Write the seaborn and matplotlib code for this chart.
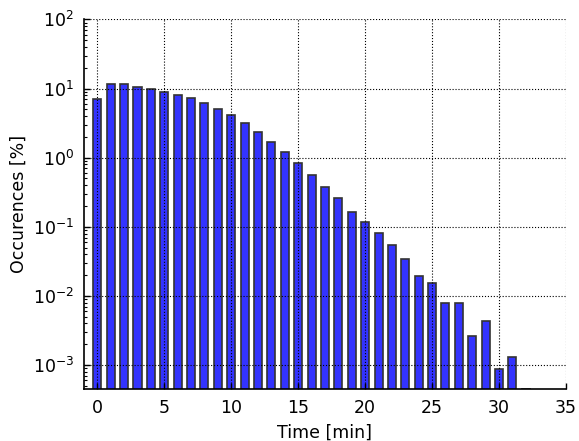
import numpy as np
import pandas as pd
import matplotlib
matplotlib.use("Agg")
import matplotlib.pyplot as plt
import seaborn as sns
from matplotlib.ticker import LogLocator

minutes = list(range(0, 33))
occurrences = [7.1, 11.6, 11.6, 10.7, 9.7, 8.9, 8.1, 7.3, 6.2, 5.08,
               4.12, 3.13, 2.32, 1.71, 1.21, 0.84, 0.57, 0.377, 0.262, 0.166,
               0.118, 0.0817, 0.0547, 0.034, 0.0195, 0.0156, 0.00783, 0.00783,
               0.00261, 0.00434, 0.000869, 0.00131, 0.00045]
x_ticks = [0, 5, 10, 15, 20, 25, 30, 35]

df = pd.DataFrame({"Time": minutes, "Occ": occurrences})

plt.rcParams["font.family"] = ["DejaVu Sans"]
plt.rcParams["font.size"] = 12
plt.rcParams["xtick.direction"] = "in"
plt.rcParams["ytick.direction"] = "in"
plt.rcParams["axes.unicode_minus"] = False

fig = plt.figure(figsize=(5.79, 4.41), dpi=100)
ax = fig.add_axes([0.145, 0.117, 0.8325, 0.839])

sns.barplot(data=df, x="Time", y="Occ", native_scale=True, width=0.6,
            color="#3333ff", saturation=1, edgecolor="#333333", linewidth=1.2,
            errorbar=None, ax=ax, zorder=2)
ax.set_yscale("log")

ax.set_xlim(-1, 35)
ax.set_ylim(4.45e-4, 100)
ax.set_xticks(x_ticks)
ax.set_xticklabels([str(t) for t in x_ticks])
ax.yaxis.set_major_locator(LogLocator(base=10, numticks=10))
ax.yaxis.set_minor_locator(LogLocator(base=10, subs=np.arange(2, 10), numticks=20))

ax.grid(True, which="major", color="k", linestyle=":", linewidth=0.8, zorder=0)
ax.set_axisbelow(False)
for s in ["top", "right"]:
    ax.spines[s].set_visible(False)
for s in ["left", "bottom"]:
    ax.spines[s].set_linewidth(1.2)
    ax.spines[s].set_color("k")

ax.tick_params(axis="both", which="major", length=4, width=1, labelsize=12.5, pad=7)
ax.tick_params(axis="y", which="minor", length=2, width=0.8)
ax.tick_params(axis="x", which="minor", length=0)
ax.tick_params(top=False, right=False)

ax.set_xlabel("Time [min]", fontsize=12.5, labelpad=5)
ax.set_ylabel("Occurences [%]", fontsize=12.5)

fig.savefig("out.png", dpi=100)
